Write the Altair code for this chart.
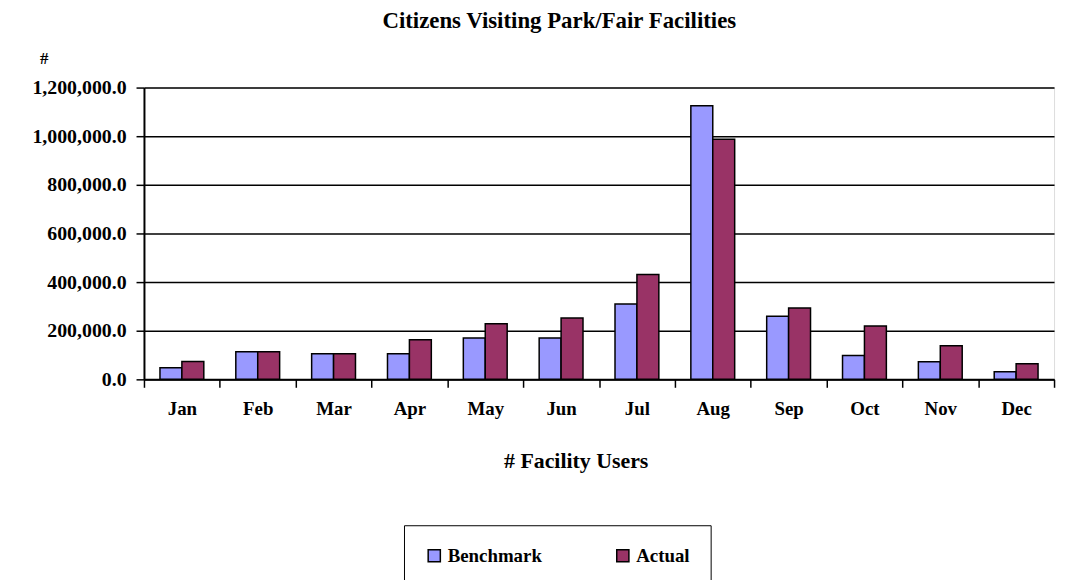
import altair as alt
import pandas as pd

months = ["Jan", "Feb", "Mar", "Apr", "May", "Jun", "Jul", "Aug", "Sep", "Oct", "Nov", "Dec"]
benchmark = [48000, 114000, 105000, 105000, 170000, 170000, 310000, 1125000, 260000, 98000, 72000, 31000]
actual = [73000, 114000, 105000, 163000, 229000, 252000, 431000, 987000, 293000, 219000, 138000, 64000]
series = ["Benchmark", "Actual"]
colors = ["#9999FF", "#993366"]
y_ticks = [0, 200000, 400000, 600000, 800000, 1000000, 1200000]

rows = []
for m, b, a in zip(months, benchmark, actual):
    rows.append({"month": m, "series": "Benchmark", "value": b})
    rows.append({"month": m, "series": "Actual", "value": a})
df = pd.DataFrame(rows)

FONT = "Liberation Serif"

chart = alt.Chart(df).mark_bar(stroke="black", strokeWidth=1.5).encode(
    x=alt.X(
        "month:N",
        sort=months,
        scale=alt.Scale(paddingInner=0, paddingOuter=0),
        axis=alt.Axis(
            title="# Facility Users",
            titleFont=FONT,
            titleFontSize=22,
            titleFontWeight="bold",
            titleColor="black",
            titleX=435,
            titleY=82,
            titleBaseline="middle",
            titleAlign="center",
            labelFont=FONT,
            labelFontSize=19,
            labelFontWeight="bold",
            labelColor="black",
            labelAngle=0,
            labelPadding=12,
            tickBand="extent",
            tickSize=8,
            tickColor="black",
            tickWidth=1.5,
            domainColor="black",
            domainWidth=2,
            grid=False,
        ),
    ),
    xOffset=alt.XOffset(
        "series:N",
        sort=series,
        scale=alt.Scale(paddingInner=0, paddingOuter=0.73),
    ),
    y=alt.Y(
        "value:Q",
        scale=alt.Scale(domain=[0, 1200000], nice=False),
        axis=alt.Axis(
            title="#",
            titleFont=FONT,
            titleFontSize=17,
            titleFontWeight="bold",
            titleColor="black",
            titleAngle=0,
            titleX=-101,
            titleY=-29,
            titleAlign="center",
            titleBaseline="middle",
            values=y_ticks,
            format=",.1f",
            labelFont=FONT,
            labelFontSize=20,
            labelFontWeight="bold",
            labelColor="black",
            labelPadding=10,
            tickSize=8,
            tickColor="black",
            tickWidth=1.5,
            domainColor="black",
            domainWidth=2,
            gridColor="black",
            gridWidth=1.5,
            gridOpacity=1,
        ),
    ),
    color=alt.Color(
        "series:N",
        sort=series,
        scale=alt.Scale(domain=series, range=colors),
        legend=alt.Legend(
            title=None,
            orient="none",
            legendX=262,
            legendY=441,
            direction="horizontal",
            symbolType="square",
            symbolSize=150,
            symbolStrokeColor="black",
            symbolStrokeWidth=1.5,
            symbolOpacity=1,
            labelFont=FONT,
            labelFontSize=19,
            labelFontWeight="bold",
            labelColor="black",
            labelOffset=4,
            columnPadding=72,
            padding=21,
            strokeColor="black",
        ),
    ),
).properties(
    width=917,
    height=294,
    title=alt.TitleParams(
        text="Citizens Visiting Park/Fair Facilities",
        font=FONT,
        fontSize=23,
        fontWeight="bold",
        color="black",
        anchor="middle",
        frame="group",
        dx=-40,
        offset=17,
    ),
    autosize=alt.AutoSizeParams(type="none"),
    padding={"left": 137, "top": 78, "right": 6, "bottom": 200},
).configure_view(strokeWidth=0).configure_legend(strokeWidth=1.5).configure(background="white")

chart.save("out.html", embed_options={"renderer": "svg", "actions": False})
